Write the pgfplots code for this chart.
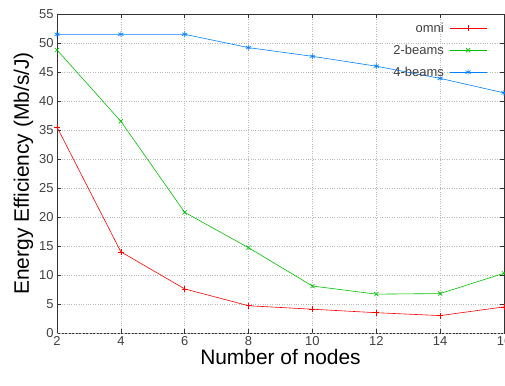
\documentclass[border=0pt]{standalone}
\usepackage{fontspec}
\setmainfont{Liberation Sans}
\usepackage{pgfplots}
\pgfplotsset{compat=1.18}
\definecolor{cRed}{HTML}{FF0000}
\definecolor{cGreen}{HTML}{00C000}
\definecolor{cBlue}{HTML}{0080FF}
\definecolor{frame}{HTML}{333333}
\definecolor{tlab}{HTML}{404040}
\begin{document}
\begin{tikzpicture}
\begin{axis}[
  name=ax,
  scale only axis,
  width=447bp, height=319bp,
  xmin=2, xmax=16, ymin=0, ymax=55,
  xtick={2,4,...,16},
  ytick={0,5,...,55},
  /pgf/number format/assume math mode=true,
  tick label style={font=\fontsize{13}{15}\selectfont, text=tlab},
  xlabel={Number of nodes},
  ylabel={Energy Efficiency (Mb/s/J)},
  label style={font=\fontsize{21}{24}\selectfont},
  xlabel style={yshift=3bp},
  ylabel style={yshift=-1bp},
  grid=major,
  major grid style={dotted, gray!55, line width=0.7pt},
  axis line style={frame, line width=0.7pt},
  tick align=inside,
  major tick length=4bp,
  tick style={frame, line width=0.6pt},
  extra y ticks={0},
  extra y tick labels={},
  extra y tick style={grid style={solid, gray, line width=1.5pt}, major tick length=0pt},
  legend style={draw=none, fill=none, at={(0.97,0.985)}, anchor=north east,
    font=\fontsize{13}{15}\selectfont, row sep=7bp, column sep=4bp},
  legend cell align=right,
  legend plot pos=right,
  legend image code/.code={
    \draw[mark repeat=2,mark phase=2] plot coordinates {(0bp,0bp) (18bp,0bp) (37bp,0bp)};
  },
]
\addplot[cRed, line width=0.6pt, mark=+, mark size=3bp] coordinates {
 (2,35.5) (4,14.0) (6,7.6) (8,4.7) (10,4.1) (12,3.5) (14,3.0) (16,4.5)};
\addlegendentry{\textcolor{tlab}{omni}}
\addplot[cGreen, line width=0.6pt, mark=x, mark size=3bp] coordinates {
 (2,48.8) (4,36.5) (6,20.8) (8,14.7) (10,8.1) (12,6.7) (14,6.8) (16,10.3)};
\addlegendentry{\textcolor{tlab}{2-beams}}
\addplot[cBlue, line width=0.6pt, mark=asterisk, mark size=3bp] coordinates {
 (2,51.5) (4,51.5) (6,51.5) (8,49.2) (10,47.7) (12,46.0) (14,43.9) (16,41.4)};
\addlegendentry{\textcolor{tlab}{4-beams}}
\end{axis}
\pgfresetboundingbox
\path[use as bounding box] ([xshift=-57bp,yshift=-53bp]ax.south west) rectangle ([xshift=1bp,yshift=14bp]ax.north east);
\end{tikzpicture}
\end{document}
